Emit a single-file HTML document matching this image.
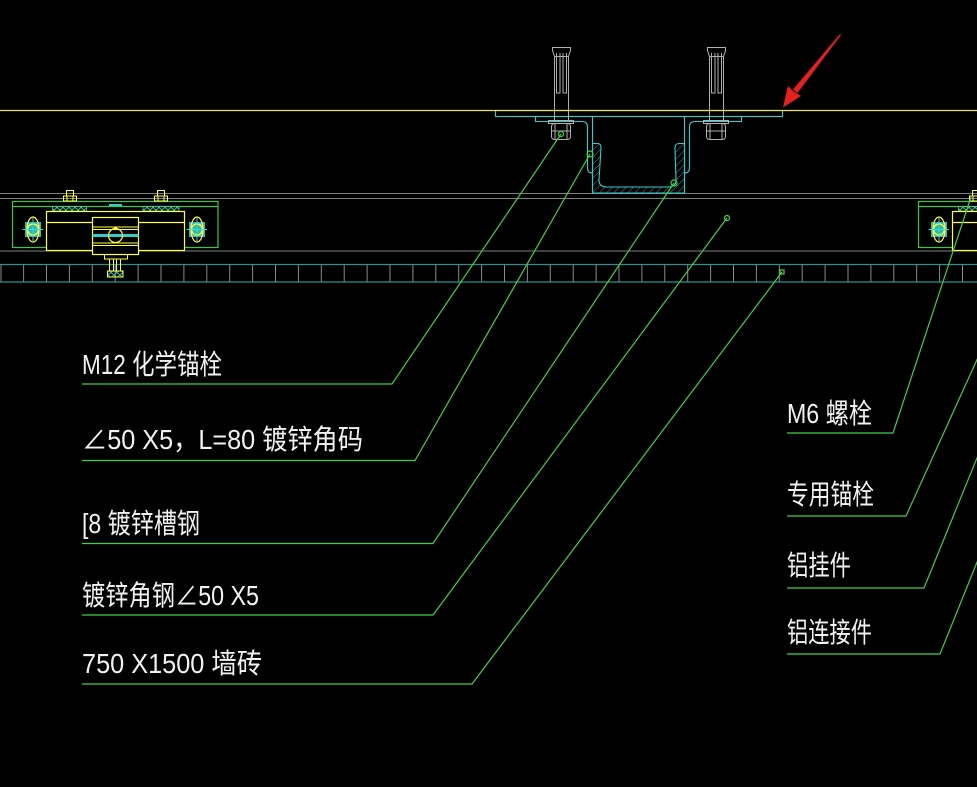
<!DOCTYPE html>
<html><head><meta charset="utf-8"><style>
html,body{margin:0;padding:0;background:#000;}
svg{display:block;}
text{font-family:"Liberation Sans","Noto Sans CJK SC",sans-serif;fill:#f2f2f2;font-size:28px;}
</style></head><body>
<svg width="977" height="787" viewBox="0 0 977 787" xmlns="http://www.w3.org/2000/svg">
<defs>
<pattern id="hat" width="5" height="5" patternUnits="userSpaceOnUse" patternTransform="rotate(45)">
<line x1="0" y1="0" x2="0" y2="5" stroke="#2a9a9a" stroke-width="1"/>
</pattern>
<pattern id="xh" width="6" height="5" patternUnits="userSpaceOnUse">
<path d="M0,0 L6,5 M6,0 L0,5" stroke="#3cc8a0" stroke-width="0.9"/>
</pattern>
<g id="brk">
<rect x="12.5" y="201.5" width="205.5" height="46" fill="none" stroke="#3cc83c" stroke-width="1.2"/>
<line x1="12.5" y1="206.5" x2="218" y2="206.5" stroke="#3cc83c" stroke-width="1.2"/>
<rect x="52.5" y="206.5" width="34" height="4.5" fill="url(#xh)" stroke="#3cc8a0" stroke-width="0.8"/>
<rect x="143" y="206.5" width="36" height="4.5" fill="url(#xh)" stroke="#3cc8a0" stroke-width="0.8"/>
<line x1="109" y1="205" x2="122" y2="205" stroke="#33cccc" stroke-width="2"/>
<rect x="66.5" y="190.5" width="7" height="5.5" fill="none" stroke="#ffff40"/>
<rect x="63.5" y="196" width="13" height="5" fill="none" stroke="#ffff40"/>
<line x1="67" y1="196" x2="67" y2="201" stroke="#ffff40"/><line x1="73" y1="196" x2="73" y2="201" stroke="#ffff40"/>
<rect x="157.5" y="190.5" width="7" height="5.5" fill="none" stroke="#ffff40"/>
<rect x="154.5" y="196" width="13" height="5" fill="none" stroke="#ffff40"/>
<line x1="158" y1="196" x2="158" y2="201" stroke="#ffff40"/><line x1="164" y1="196" x2="164" y2="201" stroke="#ffff40"/>
<rect x="46.5" y="211.5" width="138" height="39" fill="#000" stroke="#ffff40" stroke-width="1.2"/>
<line x1="46.5" y1="222.5" x2="184.5" y2="222.5" stroke="#ffff40" stroke-width="1.2"/>
<rect x="92.5" y="217.5" width="46" height="37" fill="#000" stroke="#ffff40" stroke-width="1.2"/>
<line x1="92.5" y1="227" x2="138.5" y2="227" stroke="#ffff40"/>
<line x1="92.5" y1="229.5" x2="138.5" y2="229.5" stroke="#ffff40"/>
<line x1="92.5" y1="243" x2="138.5" y2="243" stroke="#ffff40"/>
<line x1="92.5" y1="245.5" x2="138.5" y2="245.5" stroke="#ffff40"/>
<rect x="92.5" y="234" width="46" height="3" fill="#33cccc"/>
<circle cx="115.5" cy="235.5" r="7" fill="none" stroke="#ffff40" stroke-width="1.2"/>
<rect x="114" y="227" width="3" height="2" fill="#ffff40"/>
<rect x="104.5" y="254.5" width="23" height="4.5" fill="none" stroke="#ffff40"/>
<line x1="109.5" y1="259" x2="109.5" y2="271" stroke="#ffff40"/>
<line x1="120.5" y1="259" x2="120.5" y2="271" stroke="#ffff40"/>
<line x1="113.5" y1="259" x2="113.5" y2="271" stroke="#ffff40"/>
<line x1="116.5" y1="259" x2="116.5" y2="271" stroke="#ffff40"/>
<rect x="107.5" y="271" width="15.5" height="6" fill="url(#xh)" stroke="#ffff40"/>
<g id="side">
<rect x="25" y="222" width="16" height="15" fill="#28b8b8"/>
<ellipse cx="33" cy="229.5" rx="6" ry="12.5" fill="none" stroke="#ffff40" stroke-width="1.2"/>
<circle cx="33" cy="229.5" r="5.5" fill="none" stroke="#ffff40" stroke-width="1.5"/>
<line x1="22.5" y1="229.5" x2="43" y2="229.5" stroke="#33dddd"/>
<line x1="33" y1="218" x2="33" y2="241" stroke="#33dddd"/>
</g>
<use href="#side" x="164"/>
</g>
</defs>
<rect width="977" height="787" fill="#000"/>

<line x1="0" y1="193.5" x2="977" y2="193.5" stroke="#7f7f7f"/>
<line x1="0" y1="198.5" x2="977" y2="198.5" stroke="#7f7f7f"/>
<line x1="0" y1="251" x2="977" y2="251" stroke="#7f7f7f"/>

<g stroke="#8a8a8a" stroke-width="1">
<path d="M1,264 V282 M23.6,264 V282 M46.5,264 V282 M69.4,264 V282 M92.3,264 V282 M115.2,264 V282 M138.1,264 V282 M161,264 V282 M183.9,264 V282 M206.8,264 V282 M229.7,264 V282 M252.6,264 V282 M275.5,264 V282 M298.4,264 V282 M321.3,264 V282 M344.2,264 V282 M367.1,264 V282 M390,264 V282 M412.9,264 V282 M435.8,264 V282 M458.7,264 V282 M481.6,264 V282 M504.5,264 V282 M527.4,264 V282 M550.3,264 V282 M573.2,264 V282 M596.1,264 V282 M619,264 V282 M641.9,264 V282 M664.8,264 V282 M687.7,264 V282 M710.6,264 V282 M733.5,264 V282 M756.4,264 V282 M779.3,264 V282 M802.2,264 V282 M825.1,264 V282 M848,264 V282 M870.9,264 V282 M893.8,264 V282 M916.7,264 V282 M939.6,264 V282 M962.5,264 V282"/>
</g>
<line x1="0" y1="264.5" x2="977" y2="264.5" stroke="#2e8f8f" stroke-width="1.2"/>
<line x1="0" y1="282" x2="977" y2="282" stroke="#2e8f8f" stroke-width="1.2"/>

<use href="#brk"/>
<use href="#brk" x="906"/>

<rect x="495.5" y="110.5" width="287" height="6" fill="none" stroke="#33cccc" stroke-width="1.1"/>
<path d="M535.5,116.5 V121.5 H582 Q587.5,121.5 587.5,127 V168 Q587.5,173 592.5,173" fill="none" stroke="#33cccc" stroke-width="1.1"/>
<path d="M741.5,116.5 V121.5 H695 Q689.5,121.5 689.5,127 V168 Q689.5,173 684.5,173" fill="none" stroke="#33cccc" stroke-width="1.1"/>
<path d="M592.5,143.5 H598 Q601,143.5 601,148 L599,180 Q599,187 607,187 H668 Q676,187 676,180 L675,148 Q675,143.5 679,143.5 H684.5 V193 H592.5 Z" fill="url(#hat)" stroke="#33cccc" stroke-width="1.1"/>
<line x1="592.5" y1="116.5" x2="592.5" y2="193" stroke="#33cccc" stroke-width="1.1"/>
<line x1="684.5" y1="116.5" x2="684.5" y2="193" stroke="#33cccc" stroke-width="1.1"/>

<g id="bolt" fill="none" stroke="#b0b0b0" stroke-width="1">
<path d="M552.5,47.5 H570.5 V50.5 L568.5,56.5 H554.5 L552.5,50.5 Z"/>
<path d="M554.5,56.5 V122 M568.5,56.5 V122"/>
<path d="M556.5,53 V93 H560 V53 M563,53 V93 H566.5 V53"/>
<rect x="548.5" y="120.5" width="25" height="3"/>
<rect x="551.5" y="123.5" width="19" height="16" rx="3"/>
<path d="M555,123.5 V139.5 M567,123.5 V139.5 M551.5,131 H570.5"/>
</g>
<use href="#bolt" x="155"/>

<line x1="0" y1="110.5" x2="977" y2="110.5" stroke="#e6e64a" stroke-width="1.3"/>

<polygon points="840,34 841,35 797.5,93 793,89.5" fill="#e8201c"/>
<polygon points="783,107.5 788,86 793,91 801,96" fill="#e8201c"/>

<g fill="none" stroke="#40d040" stroke-width="1.2">
<polyline points="82,384 392,384 561,134"/>
<polyline points="82,460.5 415,460.5 590,154"/>
<polyline points="82,543.5 433,543.5 674,183"/>
<polyline points="82,615 433,615 727,218"/>
<polyline points="82,684 472,684 782,272"/>
<polyline points="787,433 893,433 971,197"/>
<polyline points="787,516 906,516 990,331"/>
<polyline points="787,588 924,588 990,426"/>
<polyline points="787,654 940,654 990,530"/>
<circle cx="561" cy="134" r="2.5"/>
<circle cx="590" cy="154" r="3"/>
<circle cx="674" cy="183" r="3"/>
<circle cx="727" cy="218" r="2.5"/>
<rect x="780" y="270" width="4" height="4"/>
</g>

<text x="82" y="374" textLength="140" lengthAdjust="spacingAndGlyphs">M12 化学锚栓</text>
<text x="82" y="449" textLength="281" lengthAdjust="spacingAndGlyphs">∠50 X5，L=80 镀锌角码</text>
<text x="82" y="533" textLength="118" lengthAdjust="spacingAndGlyphs">[8 镀锌槽钢</text>
<text x="82" y="605" textLength="177" lengthAdjust="spacingAndGlyphs">镀锌角钢∠50 X5</text>
<text x="82" y="673" textLength="180" lengthAdjust="spacingAndGlyphs">750 X1500 墙砖</text>
<text x="787" y="423" textLength="85" lengthAdjust="spacingAndGlyphs">M6 螺栓</text>
<text x="787" y="504" textLength="87" lengthAdjust="spacingAndGlyphs">专用锚栓</text>
<text x="787" y="575" textLength="64" lengthAdjust="spacingAndGlyphs">铝挂件</text>
<text x="787" y="642" textLength="85" lengthAdjust="spacingAndGlyphs">铝连接件</text>
</svg>
</body></html>
